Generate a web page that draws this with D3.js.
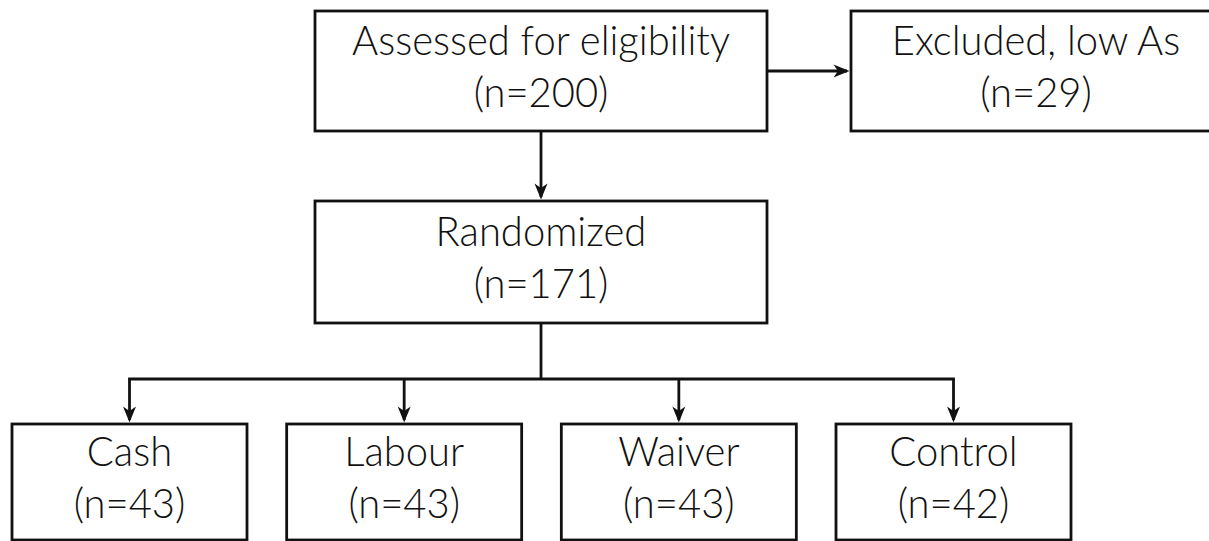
<!DOCTYPE html>
<html>
<head>
<meta charset="utf-8">
<script src="https://cdn.jsdelivr.net/npm/d3@7"></script>
<style>
  html, body { margin: 0; padding: 0; background: #fff; }
  svg { display: block; }
  text { font-family: Lato, "Open Sans", sans-serif; font-weight: 300; fill: #111; }
</style>
</head>
<body>
<svg id="chart" width="1209" height="541"></svg>
<script>
// ---- data ----
const topLabels = ["Assessed for eligibility", "Excluded, low As"];
const topCounts = [200, 29];
const midLabel = "Randomized";
const midCount = 171;
const arms = ["Cash", "Labour", "Waiver", "Control"];
const armCounts = [43, 43, 43, 42];

// ---- layout ----
const W = 1209, H = 541;
const svg = d3.select("#chart");
const ink = "#111";
const lw = 2.8;
const fs = 41;

const xTop = d3.scaleOrdinal().domain(topLabels).range([315, 851]);
const topW = d3.scaleOrdinal().domain(topLabels).range([452, 370]);
const topY = 11, topH = 120;
const midX = 315, midWd = 452, midY = 201, midH = 122;
const armX = d3.scalePoint().domain(arms).range([129.5, 953.5]);
const armW = 235, armY = 424, armH = 116;
const busY = 379;

const gLines = svg.append("g");
const gBoxes = svg.append("g");
const gText = svg.append("g");

function box(x, y, w, h) {
  gBoxes.append("rect")
    .attr("x", x).attr("y", y).attr("width", w).attr("height", h)
    .attr("fill", "#fff").attr("stroke", ink).attr("stroke-width", lw);
}
function label(cx, cy, l1, l2) {
  gText.append("text").attr("class", "lbl")
    .attr("x", cx).attr("y", cy - 16).attr("text-anchor", "middle")
    .attr("font-size", fs).text(l1);
  gText.append("text").attr("class", "lbl")
    .attr("x", cx).attr("y", cy + 36).attr("text-anchor", "middle")
    .attr("font-size", fs).text(l2);
}
function line(x1, y1, x2, y2) {
  gLines.append("line").attr("x1", x1).attr("y1", y1).attr("x2", x2).attr("y2", y2)
    .attr("stroke", ink).attr("stroke-width", lw);
}
function head(x, y, dx, dy) {
  const L = 16, Wd = 6.5, notch = 4.5;
  const px = -dy, py = dx;
  const p = [
    [x, y],
    [x - dx * L + px * Wd, y - dy * L + py * Wd],
    [x - dx * (L - notch), y - dy * (L - notch)],
    [x - dx * L - px * Wd, y - dy * L - py * Wd]
  ];
  gLines.append("path").attr("d", "M" + p.map(q => q.join(",")).join("L") + "Z")
    .attr("fill", ink);
}

topLabels.forEach((t, i) => {
  const x = xTop(t), w = topW(t);
  box(x, topY, w, topH);
  label(x + w / 2, topY + topH / 2, t, "(n=" + topCounts[i] + ")");
});
box(midX, midY, midWd, midH);
const midCx = midX + midWd / 2;
label(midCx, midY + midH / 2, midLabel, "(n=" + midCount + ")");
arms.forEach((a, i) => {
  const cx = armX(a);
  box(cx - armW / 2, armY, armW, armH);
  label(cx, armY + armH / 2, a, "(n=" + armCounts[i] + ")");
});

const t0 = topLabels[0], t1 = topLabels[1];
const topMidY = topY + topH / 2;
line(xTop(t0) + topW(t0), topMidY, xTop(t1) - 4, topMidY);
head(xTop(t1) - 1.5, topMidY, 1, 0);
const c0 = xTop(t0) + topW(t0) / 2;
line(c0, topY + topH, c0, midY - 4);
head(c0, midY - 1.5, 0, 1);
line(midCx, midY + midH, midCx, busY);
line(armX(arms[0]) - lw / 2, busY, armX(arms[arms.length - 1]) + lw / 2, busY);
arms.forEach(a => {
  line(armX(a), busY, armX(a), armY - 4);
  head(armX(a), armY - 1.5, 0, 1);
});

const ref = gText.select("text").node();
const k = 378 / ref.getComputedTextLength();
gText.selectAll("text.lbl").each(function () {
  const len = this.getComputedTextLength();
  d3.select(this).attr("textLength", len * k).attr("lengthAdjust", "spacingAndGlyphs");
});
</script>
</body>
</html>
